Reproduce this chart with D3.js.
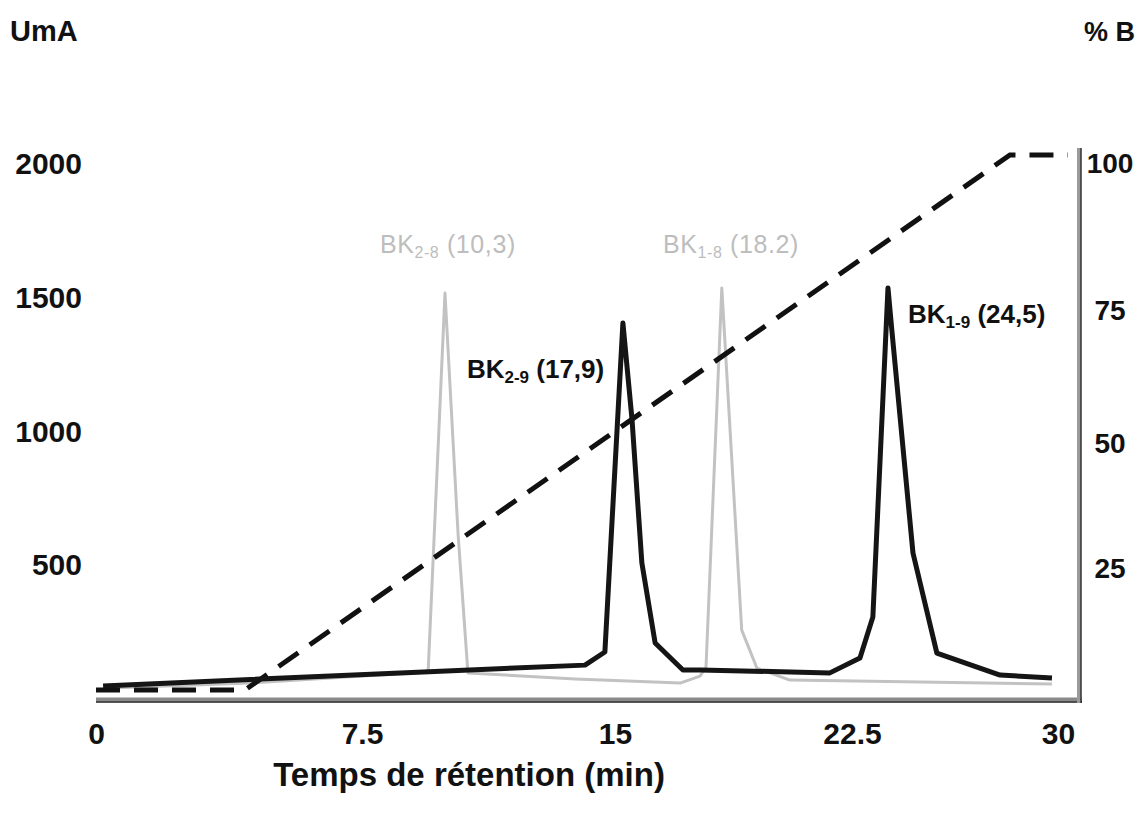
<!DOCTYPE html>
<html>
<head>
<meta charset="utf-8">
<script src="https://cdn.jsdelivr.net/npm/d3@7"></script>
<style>
  html, body { margin: 0; padding: 0; background: #fff; }
  svg { display: block; }
  text { font-family: "Liberation Sans", Arial, sans-serif; }
</style>
</head>
<body>
<svg id="chart" width="1143" height="817"></svg>
<script>
// ---- data ----
const xTicks = [0, 7.5, 15, 22.5, 30];
const yLeftTicks = [500, 1000, 1500, 2000];
const yRightTicks = [25, 50, 75, 100];

// BK-9 trace (black): time (min), absorbance (UmA)
const bk9Time = [0.2, 8.63, 14.11, 14.70, 15.25, 15.54, 15.85, 16.27, 17.15, 17.69, 21.80, 22.79, 23.26, 23.81, 23.96, 24.72, 25.59, 27.89, 29.78];
const bk9Abs  = [15, 64, 93, 142, 1372, 1009, 475, 176, 75, 75, 64, 120, 273, 1503, 1335, 512, 138, 56, 45];

// BK-8 trace (grey)
const bk8Time = [0.2, 4.34, 9.46, 9.96, 10.35, 10.64, 13.82, 17.06, 17.69, 17.88, 18.38, 19.01, 19.49, 20.53, 29.78];
const bk8Abs  = [7, 26, 67, 1484, 579, 64, 41, 26, 52, 86, 1503, 224, 82, 37, 22];

// gradient (%B), dashed
const gradTime = [0, 4.2, 28.25, 30.36];
const gradB    = [0, 0, 100, 100];

// peak labels
const peakLabels = [
  { main: "BK", sub: "2-8", rest: " (10,3)", t: 8.03, v: 1634, grey: true },
  { main: "BK", sub: "1-8", rest: " (18.2)", t: 16.52, v: 1634, grey: true },
  { main: "BK", sub: "2-9", rest: " (17,9)", t: 10.61, v: 1166, grey: false },
  { main: "BK", sub: "1-9", rest: " (24,5)", t: 24.54, v: 1372, grey: false }
];

// ---- scales ----
const svg = d3.select("#chart");
const x = d3.scaleLinear().domain(xTicks).range([96, 362, 615, 852, 1058]);
const yL = d3.scaleLinear().domain([0, 2000]).range([690, 155]);
const yR = d3.scaleLinear().domain([0, 25, 50, 75, 100]).range([690, 560, 435, 302, 155]);

const ff = "'Liberation Sans', Arial, sans-serif";

// axis lines (scanned look: grey band with dark edge)
svg.append("line").attr("x1", 96).attr("x2", 1082).attr("y1", 700).attr("y2", 700)
  .attr("stroke", "#8a8a8a").attr("stroke-width", 5);
svg.append("line").attr("x1", 96).attr("x2", 1082).attr("y1", 702).attr("y2", 702)
  .attr("stroke", "#333").attr("stroke-width", 1.5);
svg.append("line").attr("x1", 1079).attr("x2", 1079).attr("y1", 148).attr("y2", 703)
  .attr("stroke", "#9a9a9a").attr("stroke-width", 4);
svg.append("line").attr("x1", 1081).attr("x2", 1081).attr("y1", 148).attr("y2", 703)
  .attr("stroke", "#333").attr("stroke-width", 1.5);

// bottom axis
const gx = svg.append("g").attr("transform", "translate(0,700)")
  .call(d3.axisBottom(x).tickValues(xTicks).tickSize(0).tickFormat(d => String(d)));
gx.select(".domain").remove();
gx.selectAll("text").attr("y", 33).attr("dy", "0.35em")
  .attr("font-size", 30).attr("font-weight", "bold").attr("fill", "#111")
  .style("font-family", ff);

// left axis
const gy = svg.append("g").attr("transform", "translate(82,0)")
  .call(d3.axisLeft(yL).tickValues(yLeftTicks).tickSize(0).tickPadding(0).tickFormat(d => String(d)));
gy.select(".domain").remove();
gy.selectAll("text").attr("dy", "0.35em").attr("y", 8)
  .attr("font-size", 30).attr("font-weight", "bold").attr("fill", "#111")
  .style("font-family", ff);

// right axis
const gr = svg.append("g").attr("transform", "translate(1110,0)")
  .call(d3.axisRight(yR).tickValues(yRightTicks).tickSize(0).tickPadding(0).tickFormat(d => String(d)));
gr.select(".domain").remove();
gr.selectAll("text").attr("dy", "0.35em").attr("y", 8).attr("text-anchor", "middle")
  .attr("font-size", 28).attr("font-weight", "bold").attr("fill", "#111")
  .style("font-family", ff);

// titles
svg.append("text").attr("x", 10).attr("y", 41).text("UmA")
  .attr("font-size", 29).attr("font-weight", "bold").attr("fill", "#111");
svg.append("text").attr("x", 1084).attr("y", 41).text("% B")
  .attr("font-size", 27).attr("font-weight", "bold").attr("fill", "#111");
svg.append("text").attr("x", 469).attr("y", 786).attr("text-anchor", "middle")
  .text("Temps de rétention (min)")
  .attr("font-size", 33).attr("font-weight", "bold").attr("fill", "#111");

// lines
const lineL = d3.line().x(d => x(d[0])).y(d => yL(d[1]));
const lineR = d3.line().x(d => x(d[0])).y(d => yR(d[1]));

svg.append("path")
  .datum(bk8Time.map((t, i) => [t, bk8Abs[i]]))
  .attr("d", lineL).attr("fill", "none")
  .attr("stroke", "#c2c2c2").attr("stroke-width", 3).attr("stroke-linejoin", "round");

svg.append("path")
  .datum(gradTime.map((t, i) => [t, gradB[i]]))
  .attr("d", lineR).attr("fill", "none")
  .attr("stroke", "#111").attr("stroke-width", 5).attr("stroke-dasharray", "24,14");

svg.append("path")
  .datum(bk9Time.map((t, i) => [t, bk9Abs[i]]))
  .attr("d", lineL).attr("fill", "none")
  .attr("stroke", "#151515").attr("stroke-width", 5).attr("stroke-linejoin", "round");

// peak labels
peakLabels.forEach(p => {
  const t = svg.append("text").attr("x", x(p.t)).attr("y", yL(p.v))
    .attr("font-size", p.grey ? 25 : 26)
    .attr("font-weight", p.grey ? "normal" : "bold")
    .attr("letter-spacing", p.grey ? 0.6 : 0)
    .attr("fill", p.grey ? "#bdbdbd" : "#111");
  t.append("tspan").text(p.main);
  t.append("tspan").text(p.sub).attr("font-size", p.grey ? 16 : 17).attr("dy", 5);
  t.append("tspan").text(p.rest).attr("dy", -5);
});
</script>
</body>
</html>
